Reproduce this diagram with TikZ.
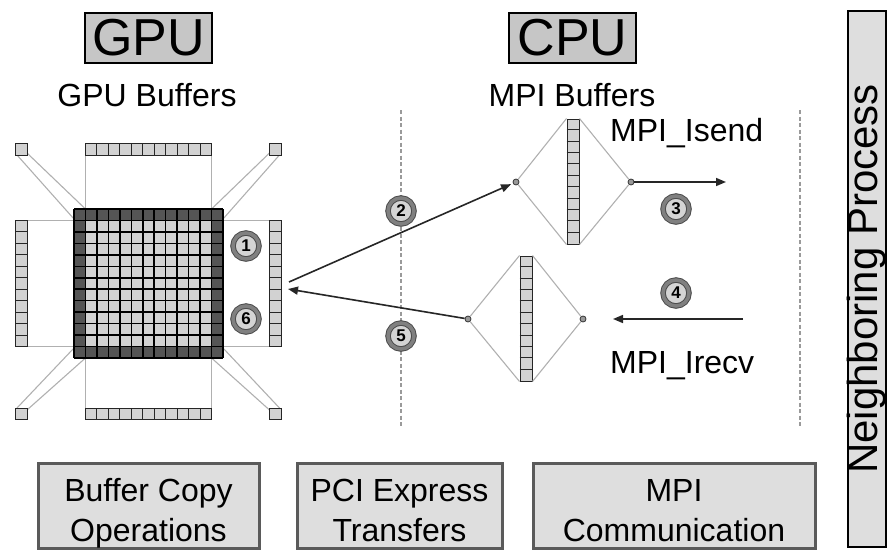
\documentclass[tikz,border=0pt]{standalone}
\usepackage{fontspec}
\setmainfont{Liberation Sans}
\usetikzlibrary{arrows.meta,calc}
\definecolor{gdark}{HTML}{555555}
\definecolor{glight}{HTML}{D2D2D2}
\definecolor{hdrfill}{HTML}{C6C6C6}
\definecolor{lboxfill}{HTML}{DEDEDE}
\definecolor{lboxline}{HTML}{5A5A5A}
\definecolor{proj}{HTML}{B0B0B0}
\definecolor{dashc}{HTML}{9A9A9A}
\definecolor{ringc}{HTML}{808080}
\definecolor{numfill}{HTML}{D4D4D4}
\definecolor{arrowc}{HTML}{262626}
\newcommand{\cs}{11.4615}
\newcommand{\lnA}{\rule{0pt}{38pt}}
\newcommand{\lnB}{\rule[-7pt]{0pt}{7pt}}
\newcommand{\hcellbar}[2]{%
  \draw[cellbar] (#1,#2) rectangle ({#1+11*\cs},{#2+11.5});
  \foreach \i in {1,...,10} \draw[cellsep] ({#1+\i*\cs},#2) -- ({#1+\i*\cs},{#2+11.5});}
\newcommand{\vcellbar}[2]{%
  \draw[cellbar] (#1,#2) rectangle ({#1+11.5},{#2+11*\cs});
  \foreach \i in {1,...,10} \draw[cellsep] (#1,{#2+\i*\cs}) -- ({#1+11.5},{#2+\i*\cs});}
\begin{document}
\begin{tikzpicture}[x=1pt,y=-1pt,
  hdrbox/.style={draw=black,line width=2.5pt,fill=hdrfill,minimum width=127pt,minimum height=50pt,inner sep=0pt,font=\fontsize{52}{52}\selectfont},
  lbl/.style={anchor=base,inner sep=0pt,font=\fontsize{32}{38}\selectfont},
  lbox/.style={draw=lboxline,line width=3pt,fill=lboxfill,minimum height=85pt,inner sep=0pt,align=center,font=\fontsize{32}{40}\selectfont},
  nbox/.style={draw=black,line width=2.5pt,fill=lboxfill,rotate=90,minimum width=536pt,minimum height=38pt,inner sep=0pt,text height=30pt,text depth=8pt,font=\fontsize{42}{42}\selectfont},
  numc/.style={circle,draw=black!70,line width=1pt,double=ringc,double distance=3.5pt,fill=numfill,minimum size=26pt,inner sep=0pt,font=\fontsize{17}{17}\selectfont\bfseries},
  dotn/.style={circle,draw=black!80,fill=black!40,line width=0.8pt,minimum size=6pt,inner sep=0pt},
  cellbar/.style={draw=black!85,line width=1pt,fill=glight},
  cellsep/.style={draw=black!85,line width=1pt},
  bufnode/.style={cellbar,minimum width=12pt,minimum height=125pt,inner sep=0pt},
  projln/.style={draw=proj,line width=1.1pt},
  dashln/.style={draw=dashc,line width=1.3pt,dash pattern=on 4pt off 2.5pt},
  flow/.style={draw=arrowc,line width=1.6pt,-{Triangle[length=10pt,width=8pt]}},
]
\useasboundingbox (0,0) rectangle (887,554);

% headers
\node[hdrbox] (gpu) at (148.5,38) {GPU};
\node[hdrbox] (cpu) at (572.5,38) {CPU};
\node[lbl] (gpubuf) at (147,106) {GPU Buffers};
\node[lbl] (mpibuf) at (572,106) {MPI Buffers};

% dashed separators
\coordinate (d1t) at (401,110); \coordinate (d1b) at (401,428);
\coordinate (d2t) at (800,110); \coordinate (d2b) at (800,428);
\draw[dashln] (d1t) -- (d1b);
\draw[dashln] (d2t) -- (d2b);

% GPU projection lines
\draw[projln] (85.46,155) -- (85.46,209);
\draw[projln] (211.54,155) -- (211.54,209);
\draw[projln] (85.46,358) -- (85.46,408);
\draw[projln] (211.54,358) -- (211.54,408);
\draw[projln] (27,220.46) -- (74,220.46);
\draw[projln] (27,346.54) -- (74,346.54);
\draw[projln] (223,220.46) -- (269.5,220.46);
\draw[projln] (223,346.54) -- (269.5,346.54);
\draw[projln] (27,153) -- (85.46,209);
\draw[projln] (17,155) -- (74,219);
\draw[projln] (269.5,153) -- (211.54,209);
\draw[projln] (279.5,155) -- (223,219);
\draw[projln] (27,410) -- (85.46,358);
\draw[projln] (17,408) -- (74,348);
\draw[projln] (269.5,410) -- (211.54,358);
\draw[projln] (279.5,408) -- (223,348);

% GPU grid
\fill[gdark] (74,209) rectangle (223,358);
\fill[glight] (85.4615,220.4615) rectangle (211.5385,346.5385);
\foreach \i in {0,...,13} {
  \draw[black,line width=1.6pt] ({74+\i*\cs},209) -- ({74+\i*\cs},358);
  \draw[black,line width=1.6pt] (74,{209+\i*\cs}) -- (223,{209+\i*\cs});
}

% halo buffers
\hcellbar{85.4615}{143.5}
\hcellbar{85.4615}{408}
\vcellbar{15.5}{220.4615}
\vcellbar{269.5}{220.4615}
\draw[cellbar] (15.5,143.5) rectangle (27,155);
\draw[cellbar] (269.5,143.5) rectangle (281,155);
\draw[cellbar] (15.5,408) rectangle (27,419.5);
\draw[cellbar] (269.5,408) rectangle (281,419.5);

% MPI buffers
\node[bufnode] (ubuf) at (573,181.5) {};
\node[bufnode] (lbuf) at (526,318.5) {};
\foreach \i in {1,...,10} {
  \draw[cellsep] ($(ubuf.north west)+(0,\i*11.3636)$) -- ($(ubuf.north east)+(0,\i*11.3636)$);
  \draw[cellsep] ($(lbuf.north west)+(0,\i*11.3636)$) -- ($(lbuf.north east)+(0,\i*11.3636)$);
}
\node[dotn] (ul) at (516,182) {};
\node[dotn] (ur) at (631,182) {};
\node[dotn] (ll) at (468,319) {};
\node[dotn] (lr) at (583,319) {};
\draw[projln] (ul) -- (ubuf.north west);
\draw[projln] (ul) -- (ubuf.south west);
\draw[projln] (ur) -- (ubuf.north east);
\draw[projln] (ur) -- (ubuf.south east);
\draw[projln] (ll) -- (lbuf.north west);
\draw[projln] (ll) -- (lbuf.south west);
\draw[projln] (lr) -- (lbuf.north east);
\draw[projln] (lr) -- (lbuf.south east);

% transfers
\coordinate (a2s) at (289,282);
\coordinate (a5e) at (288,289);
\coordinate (a3e) at (726,182);
\coordinate (a4s) at (743,319);
\coordinate (a4e) at (613,319);
\draw[flow,shorten >=2pt] (a2s) -- (ul);
\draw[flow] (ll) -- (a5e);
\draw[flow] (ur) -- (a3e);
\draw[flow] (a4s) -- (a4e);

\node[lbl,anchor=base west] (isend) at (610,141) {MPI\_Isend};
\node[lbl,anchor=base west] (irecv) at (610,373) {MPI\_Irecv};

% step numbers
\node[numc] (n1) at (246,246) {1};
\node[numc] (n6) at (246,319) {6};
\node[numc] (n2) at (401,211) {2};
\node[numc] (n5) at (401,336) {5};
\node[numc] (n3) at (676,209) {3};
\node[numc] (n4) at (676,293) {4};

% bottom boxes
\node[lbox,minimum width=221pt] (bufcopy) at (148.5,505.5) {\lnA Buffer Copy\\Operations\lnB};
\node[lbox,minimum width=205pt] (pcie) at (399.5,505.5) {\lnA PCI Express\\Transfers\lnB};
\node[lbox,minimum width=282pt] (mpicomm) at (674,505.5) {\lnA MPI\\Communication\lnB};

% neighbor
\node[nbox] (neigh) at (866.75,279) {Neighboring Process};
\end{tikzpicture}
\end{document}
